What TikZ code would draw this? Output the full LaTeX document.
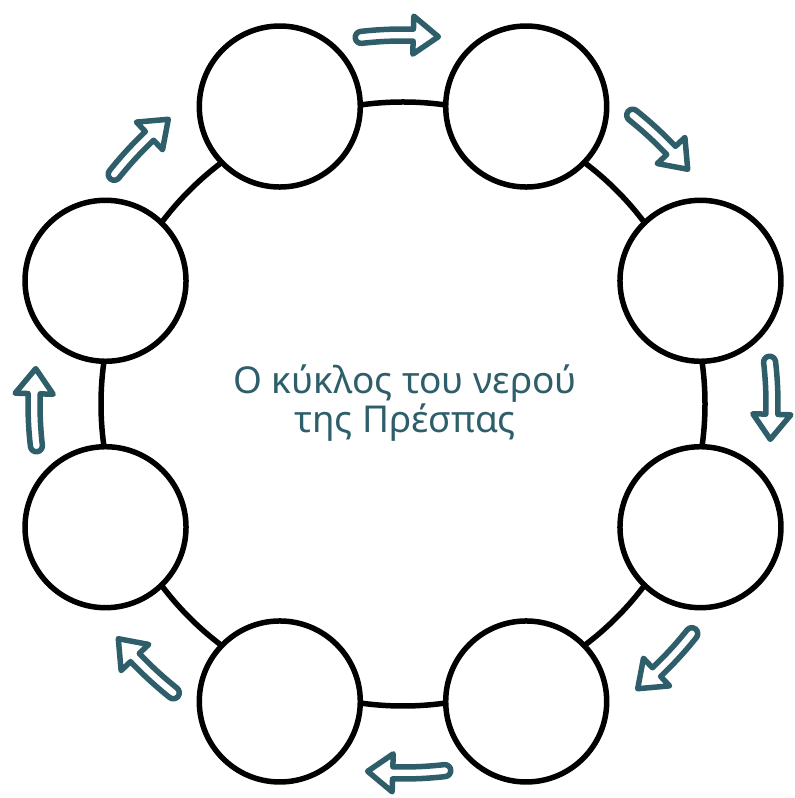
\documentclass[tikz,border=0pt]{standalone}
\usepackage{fontspec}
\setmainfont{Noto Sans}
\definecolor{tealA}{HTML}{2D5E69}
\begin{document}
\begin{tikzpicture}[x=1pt,y=1pt,
  ringline/.style={line width=5.5pt, draw=black},
  bubble/.style={circle, draw=black, line width=5.5pt, fill=white, minimum size=161pt, inner sep=0pt},
  flow/.style={draw=tealA, line width=5.5pt, line join=round, line cap=round, fill=white},
  title/.style={text=tealA, align=center, font=\fontsize{37}{34}\selectfont}]
\useasboundingbox (0,0) rectangle (795,798);
\coordinate (c) at (403,394);
\draw[ringline] (c) circle[radius=302pt];
\foreach \k in {0,...,7}{
  \pgfmathsetmacro\ang{67.5-45*\k}
  \node[bubble] (b\k) at ([shift={(\ang:322pt)}]c) {};
}
\foreach \k in {0,...,7}{
  \pgfmathsetmacro\ta{96.5-45*\k}
  \pgfmathsetmacro\tb{84.5-45*\k}
  \pgfmathsetmacro\th{\tb+3.9}
  \begin{scope}[shift={(403,394)}]
    \draw[flow] (\ta:375pt) arc[start angle=\ta, end angle=\th, radius=375pt]
      -- (\th:388pt) -- (\tb:369pt) -- (\th:350pt) -- (\th:363pt)
      arc[start angle=\th, end angle=\ta, radius=363pt]
      arc[start angle=\ta+180, end angle=\ta, radius=6pt] -- cycle;
  \end{scope}
}
\node[title] (t) at (405,395) {Ο κύκλος του νερού\\της Πρέσπας};
\end{tikzpicture}
\end{document}
